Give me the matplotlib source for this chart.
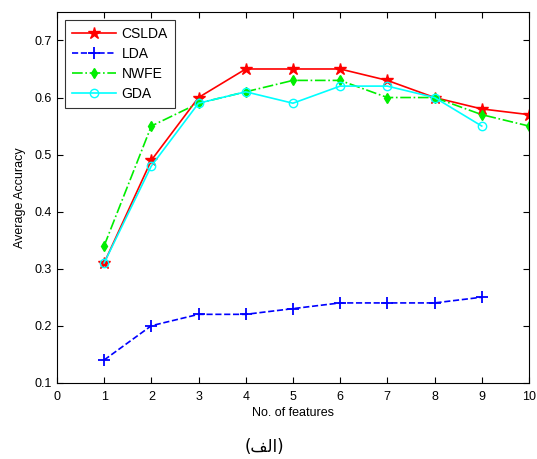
import matplotlib
matplotlib.use("Agg")
import matplotlib.pyplot as plt

plt.rcParams['font.family'] = ['Liberation Sans', 'DejaVu Sans']

# data
features = [1, 2, 3, 4, 5, 6, 7, 8, 9, 10]
cslda = [0.31, 0.49, 0.60, 0.65, 0.65, 0.65, 0.63, 0.60, 0.58, 0.57]
lda = [0.14, 0.20, 0.22, 0.22, 0.23, 0.24, 0.24, 0.24, 0.25]
nwfe = [0.34, 0.55, 0.59, 0.61, 0.63, 0.63, 0.60, 0.60, 0.57, 0.55]
gda = [0.31, 0.48, 0.59, 0.61, 0.59, 0.62, 0.62, 0.60, 0.55]

xticks = list(range(0, 11))
yticks = [0.1, 0.2, 0.3, 0.4, 0.5, 0.6, 0.7]

fig = plt.figure(figsize=(5.37, 4.59), dpi=100)
ax = fig.add_axes([0.106, 0.166, 0.879, 0.808])

ax.plot(features, cslda, color='red', linestyle='-', marker='*', markersize=9,
        markerfacecolor='red', linewidth=1.2, label='CSLDA')
ax.plot(features[:len(lda)], lda, color='blue', linestyle='--', marker='+',
        markersize=8, markeredgewidth=1.3, linewidth=1.2, label='LDA')
ax.plot(features, nwfe, color='#00ee00', linestyle='-.', marker='d',
        markersize=5, linewidth=1.2, label='NWFE')
ax.plot(features[:len(gda)], gda, color='cyan', linestyle='-', marker='o',
        markersize=6, markerfacecolor='none', linewidth=1.2, label='GDA')

ax.set_xlim(0, 10)
ax.set_ylim(0.1, 0.75)
ax.set_xticks(xticks)
ax.set_yticks(yticks)
ax.tick_params(direction='in', top=True, right=True, labelsize=9, length=4)
ax.tick_params(axis='x', pad=6)
ax.set_xlabel('No. of features', fontsize=9, labelpad=3)
ax.set_ylabel('Average Accuracy', fontsize=9, labelpad=6)

leg = ax.legend(loc='upper left', fontsize=10, fancybox=False, edgecolor='black',
                handlelength=3.2, handletextpad=0.4, borderaxespad=0.55,
                labelspacing=0.45, borderpad=0.5)
leg.get_frame().set_linewidth(0.8)

# caption: Arabic "(الف)" written with presentation forms so it shapes correctly
fig.text(0.492, 0.026, '(\uFED2\uFEDF\uFE8D)', ha='center', va='center',
         fontsize=12, family=['DejaVu Sans'])

fig.savefig('out.png', dpi=100)
